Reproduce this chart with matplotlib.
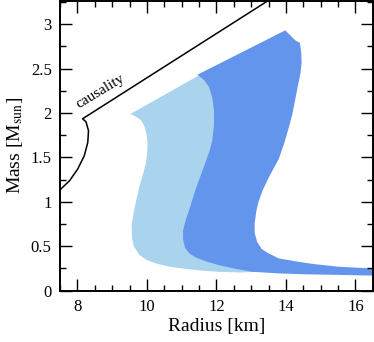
import matplotlib.pyplot as plt
from matplotlib.ticker import MultipleLocator, FormatStrFormatter

plt.rcParams['font.family'] = 'Liberation Serif'
plt.rcParams['mathtext.fontset'] = 'stix'

# causality limit curve
causR = [7.5, 7.54, 7.78, 8.01, 8.2, 8.3, 8.32, 8.25, 8.15, 13.55]
causM = [1.13, 1.15, 1.24, 1.37, 1.52, 1.67, 1.80, 1.90, 1.935, 3.28]

# light band, outline (left/bottom edge, then the part hidden under the dark band)
lightR = [9.53, 9.70, 9.83, 9.93, 9.99, 10.02, 10.01, 9.96, 9.88, 9.79, 9.70, 9.62,
          9.56, 9.57, 9.62, 9.79, 10.0, 10.26, 10.65, 11.12, 11.6, 12.07, 12.7, 13.3,
          13.5, 12.5, 11.9, 12.0, 12.1, 12.1, 11.95, 11.6]
lightM = [1.99, 1.955, 1.92, 1.85, 1.76, 1.66, 1.55, 1.42, 1.30, 1.18, 1.03, 0.88,
          0.74, 0.60, 0.50, 0.40, 0.345, 0.307, 0.27, 0.245, 0.225, 0.212, 0.205, 0.215,
          0.3, 0.8, 1.2, 1.5, 1.8, 2.1, 2.35, 2.445]

# dark band, outline
darkR = [11.45, 11.65, 11.79, 11.88, 11.93, 11.93, 11.88, 11.80, 11.69, 11.55, 11.40,
         11.25, 11.12, 11.04, 11.04, 11.1, 11.22, 11.4, 11.7, 12.07, 12.5, 13.02,
         13.79, 14.5, 15.5, 16.5,
         16.5, 15.5, 14.8, 14.36, 13.79, 13.5, 13.3, 13.17, 13.1, 13.1, 13.15, 13.21,
         13.33, 13.5, 13.65, 13.79, 13.95, 14.07, 14.18, 14.26, 14.34, 14.42, 14.45,
         14.44, 14.4, 14.3, 14.26, 13.98]
darkM = [2.43, 2.37, 2.29, 2.17, 2.03, 1.86, 1.69, 1.57, 1.45, 1.30, 1.14,
         0.95, 0.80, 0.68, 0.57, 0.48, 0.42, 0.375, 0.33, 0.288, 0.25, 0.213,
         0.195, 0.185, 0.178, 0.17,
         0.25, 0.27, 0.30, 0.325, 0.364, 0.42, 0.47, 0.55, 0.65, 0.76, 0.9, 1.0,
         1.13, 1.27, 1.38, 1.48, 1.66, 1.82, 1.98, 2.14, 2.3, 2.45, 2.57,
         2.68, 2.79, 2.81, 2.82, 2.93]

fig = plt.figure(figsize=(3.74, 3.42), dpi=100)
ax = fig.add_axes([0.1604, 0.15, 0.8366, 0.847])

ax.fill(lightR, lightM, color='#aad3ee', lw=0)
ax.fill(darkR, darkM, color='#6495ed', lw=0)
ax.plot(causR, causM, color='black', lw=1.1)
ax.text(8.05, 2.05, 'causality', rotation=31, fontsize=11, rotation_mode='anchor')

ax.set_xlim(7.5, 16.5)
ax.set_ylim(0, 3.26)
ax.set_xlabel('Radius [km]', fontsize=14, labelpad=2)
ax.set_ylabel(r'Mass [M$_{\mathrm{sun}}$]', fontsize=14, labelpad=4)

ax.xaxis.set_major_locator(MultipleLocator(2))
ax.xaxis.set_minor_locator(MultipleLocator(0.5))
ax.yaxis.set_major_locator(MultipleLocator(0.5))
ax.yaxis.set_minor_locator(MultipleLocator(0.25))
ax.yaxis.set_major_formatter(FormatStrFormatter('%g'))
ax.tick_params(which='both', direction='in', top=True, right=True, width=1, labelsize=12)
ax.tick_params(which='major', length=8.5, pad=6)
ax.tick_params(which='minor', length=4.3)
for s in ax.spines.values():
    s.set_linewidth(1.4)

fig.savefig('out.png', dpi=100)
